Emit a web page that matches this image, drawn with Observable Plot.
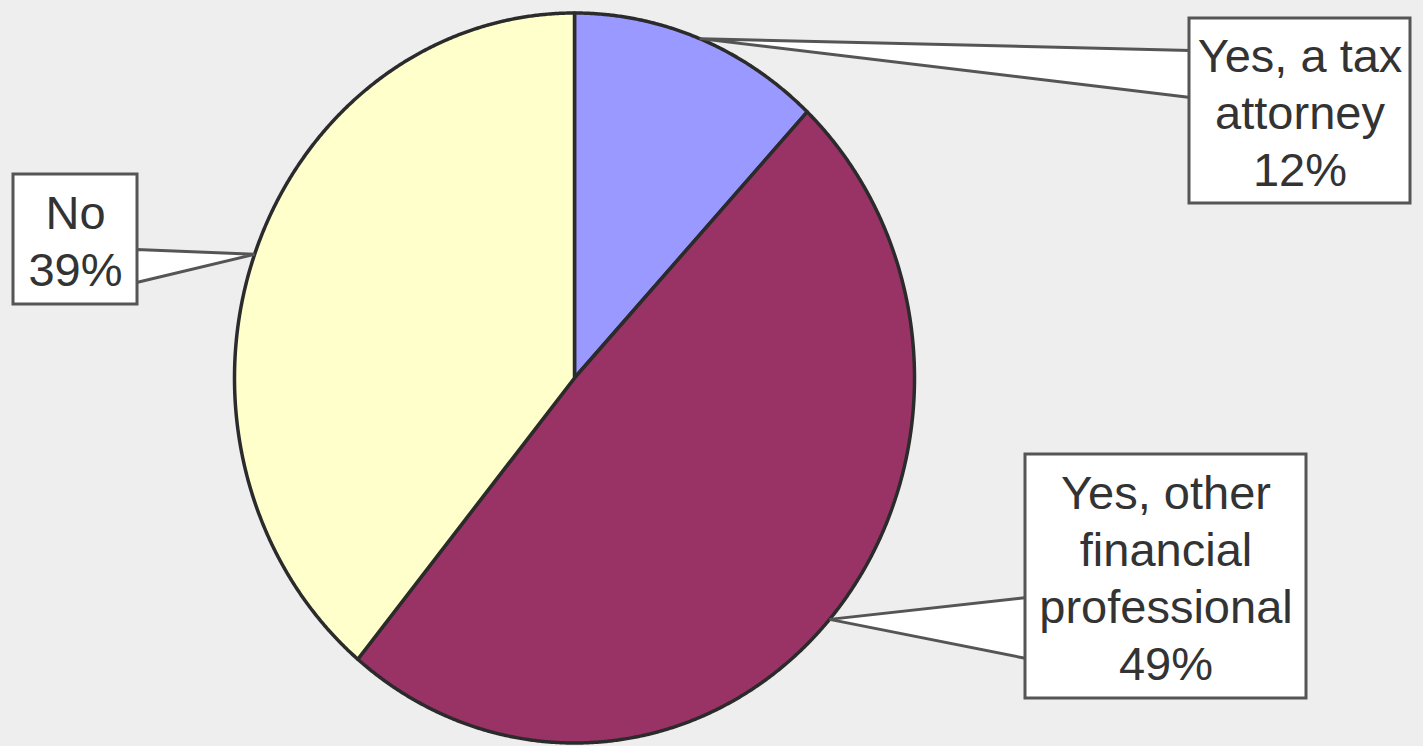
<!DOCTYPE html>
<html>
<head>
<meta charset="utf-8">
<script src="https://cdn.jsdelivr.net/npm/d3@7"></script>
<script src="https://cdn.jsdelivr.net/npm/@observablehq/plot@0.6"></script>
<style>
  html, body { margin: 0; padding: 0; background: #eeeeee; }
  #chart svg { display: block; }
</style>
</head>
<body>
<div id="chart"></div>
<script>
// ---- data ----
const categories = ["Yes, a tax attorney", "Yes, other financial professional", "No"];
const labelLines = [["Yes, a tax", "attorney"], ["Yes, other", "financial", "professional"], ["No"]];
const values = [12, 49, 39];
const colors = ["#9999ff", "#993366", "#ffffcc"];

// ---- layout (pixels) ----
const W = 1423, H = 746;
const pie = {cx: 574, cy: 377.5, rx: 340, ry: 365};
const boxes = [
  {x1: 1189, y1: 18, x2: 1410, y2: 203, ex: 1190, ea: 50, eb: 97},
  {x1: 1025, y1: 454, x2: 1306, y2: 698, ex: 1026, ea: 597, eb: 658},
  {x1: 13, y1: 174, x2: 137, y2: 304, ex: 136, ea: 249, eb: 282}
];

const arcs = d3.pie().sort(null).value(d => d)(values);
const px = a => pie.cx + pie.rx * Math.sin(a);
const py = a => pie.cy - pie.ry * Math.cos(a);

const slices = arcs.map((arc) => {
  const pts = [{x: pie.cx, y: pie.cy}];
  const n = Math.max(2, Math.ceil((arc.endAngle - arc.startAngle) / (Math.PI / 720)));
  for (let k = 0; k <= n; k++) {
    const a = arc.startAngle + (arc.endAngle - arc.startAngle) * k / n;
    pts.push({x: px(a), y: py(a)});
  }
  return pts;
});

const wedges = arcs.map((arc, i) => {
  const mid = (arc.startAngle + arc.endAngle) / 2;
  const b = boxes[i];
  return [{x: px(mid), y: py(mid)}, {x: b.ex, y: b.ea}, {x: b.ex, y: b.eb}];
});

const labels = categories.map((c, i) => ({
  text: [...labelLines[i], values[i] + "%"].join("\n"),
  x: (boxes[i].x1 + boxes[i].x2) / 2,
  y: (boxes[i].y1 + boxes[i].y2) / 2
}));

const marks = [];
slices.forEach((pts, i) => {
  marks.push(Plot.line(pts, {x: "x", y: "y", curve: "linear-closed", fill: colors[i], stroke: "#2b2b2b", strokeWidth: 3.5, strokeLinejoin: "round"}));
});
wedges.forEach(pts => {
  marks.push(Plot.line(pts, {x: "x", y: "y", curve: "linear-closed", fill: "white", stroke: "#555555", strokeWidth: 3, strokeLinejoin: "miter"}));
});
marks.push(Plot.rect(boxes, {x1: "x1", x2: "x2", y1: "y1", y2: "y2", fill: "white", stroke: "#555555", strokeWidth: 3}));
marks.push(Plot.text(labels, {x: "x", y: "y", text: "text", fontSize: 47, lineHeight: 1.21, fill: "#333333", lineAnchor: "middle", textAnchor: "middle", fontFamily: "'Liberation Sans', Arial, sans-serif"}));

const chart = Plot.plot({
  width: W,
  height: H,
  margin: 0,
  x: {domain: [0, W], range: [0, W], axis: null},
  y: {domain: [0, H], range: [0, H], axis: null},
  style: {background: "#eeeeee", overflow: "visible"},
  marks
});
document.getElementById("chart").appendChild(chart);
</script>
</body>
</html>
